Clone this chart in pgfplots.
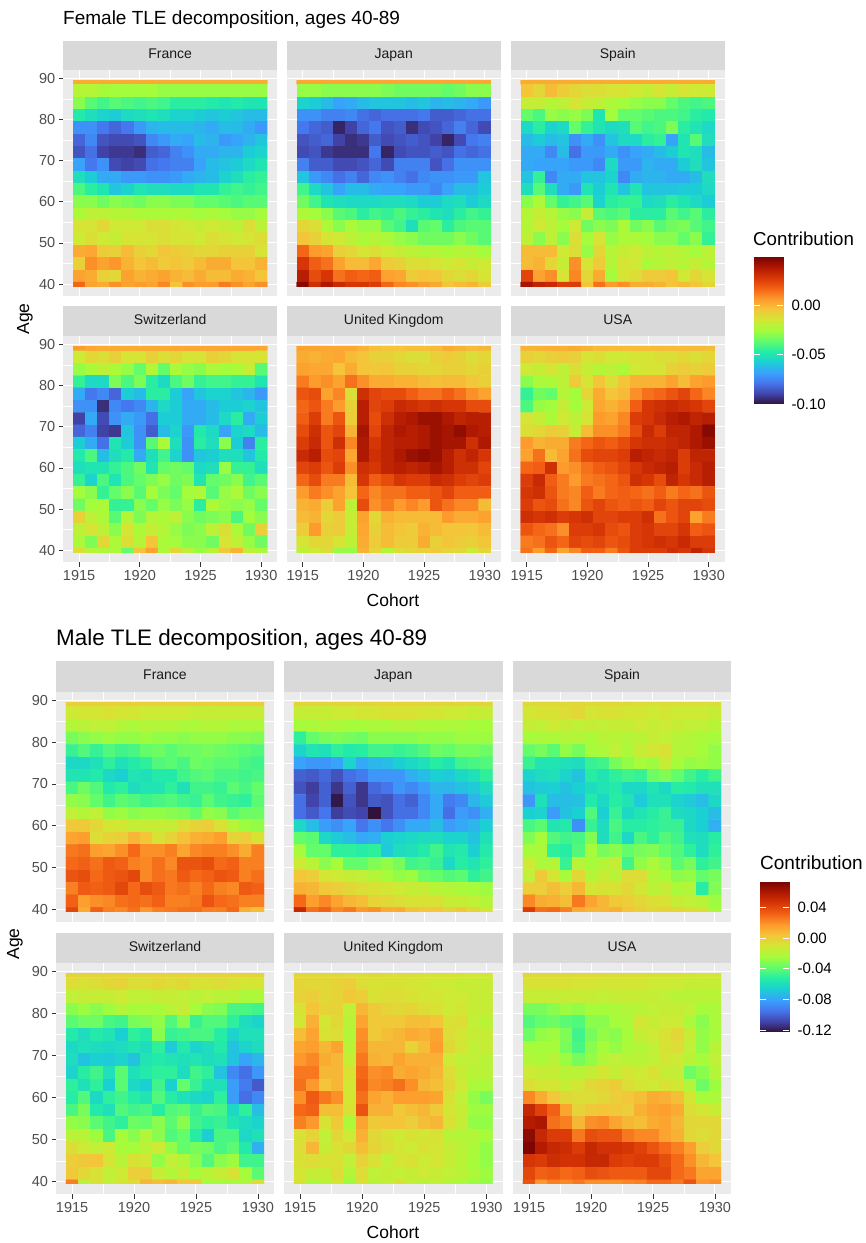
\documentclass[border=0pt]{standalone}
\usepackage{pgfplots}
\pgfplotsset{compat=1.18}
\usepackage{fontspec}
\setmainfont{Liberation Sans}
\definecolor{stripgrey}{HTML}{D9D9D9}
\definecolor{panelgrey}{HTML}{EBEBEB}
\definecolor{tickgrey}{HTML}{4D4D4D}
\definecolor{tickmark}{HTML}{333333}
\definecolor{striptext}{HTML}{1A1A1A}
\pgfplotsset{colormap={turbo}{rgb255=(48,18,59) rgb255=(65,69,171) rgb255=(70,117,237) rgb255=(57,162,252) rgb255=(27,207,212) rgb255=(36,236,166) rgb255=(97,252,108) rgb255=(164,252,59) rgb255=(209,232,52) rgb255=(243,198,58) rgb255=(254,155,45) rgb255=(243,99,21) rgb255=(217,56,6) rgb255=(177,25,1) rgb255=(122,4,2)},
 colormap name=turbo,
 yon/.style={ytick={40,50,...,90},yticklabels={40,50,60,70,80,90},ytick style={tickmark,line width=0.8pt},y tick label style={font=\fontsize{14.5}{15}\selectfont,text=tickgrey}},
 yoff/.style={ytick={40,50,...,90},yticklabels={},ytick style={draw=none}},
 xon/.style={xtick={1915,1920,1925,1930},xticklabels={1915,1920,1925,1930},xtick style={tickmark,line width=0.8pt},x tick label style={font=\fontsize{14.5}{15}\selectfont,text=tickgrey}},
 xoff/.style={xtick={1915,1920,1925,1930},xticklabels={},xtick style={draw=none}},
}
% contributions in thousandths; each list runs over cohorts 1915..1930, rows age 90 (top) down to age 39 in steps of 3
\newcommand\heat[1]{\gdef\coords{}%
 \foreach \v [count=\i from 0] in #1 {%
  \pgfmathtruncatemacro\cx{1915+mod(\i,16)}%
  \pgfmathtruncatemacro\cy{39+3*(17-floor(\i/16))}%
  \xdef\coords{\coords (\cx,\cy) [\v]}%
 }}
\newcommand\facet[8]{%
 \pgfmathsetmacro\pw{#2-#1}\pgfmathsetmacro\ph{#5-#4}\pgfmathsetmacro\py{1243-#5}%
 \fill[stripgrey] (#1,{1243-#3}) rectangle (#2,{1243-#4});
 \node[text=striptext,font=\fontsize{14}{15}\selectfont,text height=1.5ex,text depth=0.3ex] at ({(#1+#2)/2},{1243-(#3+#4)/2}) {#6};
 \begin{axis}[at={(#1pt,\py pt)},anchor=south west,scale only axis,width=\pw pt,height=\ph pt,
  xmin=1913.7,xmax=1931.3,ymin=37,ymax=92,axis line style={draw=none},axis background/.style={fill=panelgrey},
  grid=both,major grid style={white,line width=1pt},minor grid style={white,line width=0.5pt},
  minor xtick={1917.5,1922.5,1927.5},minor ytick={45,55,65,75,85},minor tick length=0pt,major tick length=4.5pt,
  tick align=outside,axis on top=false,xtick pos=bottom,ytick pos=left,#7]
 \addplot[draw=none,forget plot] coordinates {(1915,40)};
 \end{axis}
 \pgfmathsetmacro\hx{#1+0.8/17.6*\pw}\pgfmathsetmacro\hw{16/17.6*\pw}%
 \pgfmathsetmacro\hy{\py+2.5/55*\ph}\pgfmathsetmacro\hh{50/55*\ph}%
 \heat{#8}%
 \begin{axis}[at={(\hx pt,\hy pt)},anchor=south west,scale only axis,width=\hw pt,height=\hh pt,hide axis,clip=true,
  xmin=1914.5,xmax=1930.5,ymin=39.5,ymax=89.5,point meta min=\vmin,point meta max=\vmax]
 \edef\tmp{\noexpand\addplot[matrix plot*,mesh/cols=16,point meta=explicit] coordinates {\coords};}\tmp
 \end{axis}
}
\newcommand\legendbar[7]{% x, top, bottom, lo, hi, ticks, labels
 \pgfmathsetmacro\py{1243-#3}\pgfmathsetmacro\ph{#3-#2}%
 \begin{axis}[at={(#1pt,\py pt)},anchor=south west,scale only axis,width=29pt,height=\ph pt,view={0}{90},
  xmin=0,xmax=1,ymin=#4,ymax=#5,axis line style={draw=none},xtick=\empty,ytick={#6},yticklabels={#7},ytick pos=right,
  tick align=inside,major tick length=6pt,ytick style={white,line width=0.5pt},
  y tick label style={font=\fontsize{15}{16}\selectfont,text=black,xshift=5pt},axis on top]
 \addplot3[surf,shader=interp,mesh/rows=2,point meta=y] coordinates {(0,#4,0) (1,#4,0) (0,#5,0) (1,#5,0)};
 \foreach \t in {#6} {\edef\tmp{\noexpand\draw[white,line width=0.5pt] (axis cs:0,\t) -- (axis cs:0.2,\t);}\tmp}
 \end{axis}
}
\def\FF{2,2,2,2,2,2,2,2,2,2,2,2,2,2,2,2,
-22,-22,-25,-26,-26,-26,-26,-28,-28,-28,-28,-28,-28,-28,-28,-28,
-30,-38,-42,-38,-40,-42,-40,-42,-46,-46,-46,-48,-50,-48,-50,-50,
-48,-52,-56,-58,-54,-52,-50,-52,-56,-56,-58,-60,-58,-60,-62,-62,
-72,-72,-78,-82,-78,-70,-64,-62,-62,-62,-64,-66,-62,-62,-66,-70,
-82,-74,-86,-88,-88,-86,-74,-70,-66,-68,-62,-64,-70,-68,-64,-60,
-86,-80,-90,-92,-92,-94,-84,-82,-76,-72,-66,-66,-64,-64,-58,-56,
-68,-78,-72,-88,-90,-88,-80,-78,-76,-76,-68,-62,-60,-58,-54,-50,
-52,-58,-66,-66,-70,-70,-72,-72,-70,-66,-64,-62,-56,-52,-46,-44,
-40,-46,-50,-60,-56,-50,-52,-52,-54,-54,-50,-50,-44,-42,-44,-42,
-30,-30,-34,-30,-32,-34,-30,-30,-32,-32,-36,-36,-38,-40,-38,-38,
-24,-20,-20,-22,-22,-24,-24,-24,-24,-24,-26,-24,-26,-28,-28,-26,
-14,-14,-10,-16,-16,-16,-12,-12,-14,-16,-18,-16,-18,-20,-12,-20,
-16,-12,-16,-18,-14,-14,-14,-12,-14,-14,-16,-12,-14,-16,-14,-12,
2,3,-6,-8,-2,-8,-10,-4,-6,-8,-10,-10,-8,-8,-8,-14,
-8,8,4,7,0,-4,-2,-6,-4,-6,-2,2,2,-4,-4,0,
4,2,-8,-10,4,0,2,4,0,-2,2,-2,-2,2,0,-4,
16,4,2,8,4,6,4,10,-4,8,6,6,12,8,4,8}
\def\FJ{3,3,3,3,3,3,3,3,3,3,3,3,3,3,3,3,
-28,-28,-30,-30,-30,-30,-30,-32,-34,-34,-34,-34,-36,-34,-30,-30,
-56,-58,-62,-68,-66,-62,-60,-60,-60,-62,-60,-64,-62,-64,-66,-70,
-72,-72,-76,-76,-74,-80,-82,-80,-80,-80,-78,-84,-84,-82,-80,-80,
-78,-82,-84,-96,-90,-82,-78,-86,-84,-94,-88,-86,-82,-76,-82,-88,
-86,-84,-82,-90,-94,-92,-84,-88,-86,-84,-86,-90,-96,-88,-78,-76,
-88,-86,-92,-94,-94,-94,-78,-96,-88,-86,-86,-84,-86,-80,-82,-80,
-76,-84,-84,-88,-88,-86,-82,-88,-76,-76,-76,-86,-80,-72,-72,-72,
-60,-70,-74,-80,-76,-82,-74,-72,-76,-80,-74,-72,-72,-70,-70,-60,
-42,-54,-60,-68,-62,-62,-66,-68,-68,-70,-70,-74,-68,-62,-62,-58,
-34,-42,-50,-52,-54,-54,-54,-52,-52,-54,-58,-58,-54,-52,-58,-54,
-24,-26,-30,-38,-40,-46,-42,-44,-40,-44,-46,-50,-52,-46,-42,-44,
-10,-12,-24,-30,-24,-28,-28,-38,-42,-52,-38,-36,-46,-40,-38,-38,
-4,-8,-14,-16,-20,-24,-22,-24,-28,-30,-34,-34,-34,-30,-34,-38,
16,6,4,-8,-10,-14,-12,-16,-18,-20,-22,-22,-24,-22,-22,-26,
28,18,14,4,-2,-2,3,-6,-8,-12,-12,-14,-16,-14,-18,-16,
36,22,28,14,18,16,18,4,3,-6,-4,-5,-10,-12,-10,-14,
46,30,38,32,28,28,26,16,10,8,5,3,-4,-2,0,-6}
\def\FS{2,2,2,2,2,2,2,2,2,2,2,2,2,2,2,2,
-4,-10,-2,-6,-10,-12,-12,-14,-14,-16,-18,-14,-18,-14,-16,-16,
-18,-18,-22,-20,-14,-18,-20,-24,-26,-28,-30,-30,-36,-40,-42,-40,
-36,-40,-28,-30,-28,-32,-50,-26,-36,-36,-38,-40,-40,-42,-46,-48,
-54,-46,-56,-54,-36,-44,-50,-54,-52,-38,-42,-40,-32,-46,-50,-54,
-62,-58,-62,-60,-72,-66,-72,-60,-54,-54,-46,-44,-68,-50,-38,-52,
-66,-66,-74,-62,-80,-70,-70,-66,-72,-68,-66,-62,-58,-50,-52,-62,
-66,-68,-68,-68,-70,-70,-74,-54,-70,-70,-64,-66,-66,-58,-52,-60,
-60,-44,-74,-66,-66,-60,-60,-56,-74,-66,-64,-64,-66,-66,-62,-52,
-52,-38,-52,-66,-70,-50,-58,-50,-60,-50,-60,-60,-60,-58,-58,-54,
-30,-24,-36,-44,-42,-38,-56,-46,-44,-44,-54,-52,-46,-50,-54,-58,
-22,-18,-22,-28,-30,-18,-38,-40,-38,-46,-46,-46,-38,-42,-38,-46,
-22,-16,-20,-26,-16,-34,-30,-32,-24,-34,-30,-38,-34,-32,-38,-42,
-20,-30,-20,-30,-12,-26,-14,-28,-24,-24,-26,-30,-30,-36,-30,-44,
-2,-2,-2,-16,-12,-28,-10,-22,-18,-16,-20,-22,-20,-22,-26,-20,
-2,0,-10,-18,8,-14,-6,-22,-14,-16,-24,-22,-20,-22,-18,-22,
24,4,8,-14,10,-10,2,-26,-14,-12,-6,-6,-4,-16,-10,-14,
40,34,32,26,26,-4,14,6,8,2,2,0,-4,-2,-4,-10}
\def\FC{6,3,2,2,2,2,2,2,3,3,3,3,3,3,3,3,
-16,-10,-12,-8,-14,-14,-8,-12,-10,-14,-14,-8,-10,-14,-14,-14,
-28,-24,-20,-24,-28,-36,-22,-36,-24,-28,-30,-24,-26,-24,-18,-38,
-44,-54,-54,-32,-40,-32,-46,-54,-40,-34,-44,-42,-42,-44,-44,-50,
-66,-78,-74,-82,-58,-62,-46,-46,-58,-68,-60,-56,-56,-60,-64,-70,
-72,-72,-94,-74,-78,-74,-64,-54,-58,-66,-66,-62,-58,-58,-56,-60,
-90,-66,-88,-72,-66,-70,-80,-58,-58,-66,-66,-62,-54,-46,-66,-58,
-82,-76,-90,-92,-60,-72,-84,-62,-56,-70,-48,-54,-68,-56,-54,-62,
-58,-66,-80,-50,-58,-72,-38,-24,-52,-72,-46,-52,-30,-58,-76,-46,
-48,-40,-62,-52,-48,-66,-52,-42,-56,-72,-60,-58,-52,-52,-60,-48,
-52,-50,-50,-44,-40,-34,-50,-36,-34,-36,-54,-52,-28,-44,-44,-52,
-44,-56,-40,-50,-40,-36,-32,-28,-34,-32,-50,-36,-34,-30,-42,-38,
-26,-30,-44,-36,-30,-38,-26,-32,-36,-26,-24,-38,-28,-24,-34,-30,
-34,-26,-24,-44,-44,-30,-36,-28,-32,-28,-46,-24,-28,-30,-28,-36,
-8,-20,-24,-38,-22,-32,-22,-24,-20,-30,-34,-32,-30,-40,-26,-30,
-20,-14,-20,-30,-14,-24,-18,-22,-28,-32,-30,-20,-12,-24,-34,-8,
-24,-32,-10,-24,-12,-22,-4,-24,-26,-30,-30,-34,-14,-20,-28,-34,
-12,-22,-24,-24,-36,-4,4,-24,-10,-20,-28,-22,-6,0,-20,-24}
\def\FU{4,4,3,3,3,0,-3,-4,-4,-3,-3,-2,2,0,-2,-1,
2,0,2,3,-2,-4,-8,-8,-10,-12,-12,-8,-6,-8,-12,-10,
4,3,3,-4,2,-4,-5,-4,-8,-8,-10,-10,-8,-8,-10,-8,
12,6,8,4,14,8,2,2,0,0,-2,-3,-2,-2,-5,-8,
20,22,4,10,-12,30,24,22,22,18,14,14,18,14,8,4,
16,20,12,6,-8,36,24,26,32,30,28,30,28,28,22,22,
18,26,12,20,-6,36,22,30,36,38,42,42,38,34,36,36,
22,30,20,24,0,40,24,34,38,36,38,42,40,44,38,36,
26,32,20,30,10,38,28,34,36,36,38,42,40,40,30,38,
32,36,22,24,3,38,30,34,38,42,44,42,36,30,34,28,
24,26,20,26,8,30,28,34,36,34,36,40,36,30,30,24,
16,22,12,12,-2,28,18,22,28,26,26,32,30,26,24,26,
6,12,8,4,-4,16,10,14,14,18,18,20,24,18,18,18,
0,2,-6,4,-20,22,8,12,6,10,6,20,14,10,10,-2,
-2,0,-10,-6,-18,4,-10,0,-2,-2,-2,-2,6,2,2,4,
-6,6,-8,-6,-18,3,-8,-2,-4,-6,0,-2,-4,-4,-5,-2,
-14,-10,-10,-14,-20,2,-6,-2,-6,-6,2,-8,-4,-6,-8,-4,
-20,-16,-12,-28,-28,0,-10,-22,-12,-10,-8,-6,-10,-10,-16,-10}
\def\FA{0,0,1,1,2,0,-2,-2,-2,-2,-2,-2,-2,-2,-2,-2,
-8,-10,-8,-6,-8,-14,-12,-16,-16,-14,-14,-12,-12,-10,-12,-10,
-16,-18,-14,-20,-12,-18,-22,-20,-24,-16,-14,-14,-8,-6,-8,-6,
-30,-24,-24,-20,-6,-14,-4,-12,-4,0,0,0,4,-2,4,6,
-44,-34,-36,-22,-26,-10,2,-4,-2,8,14,16,20,24,16,10,
-40,-28,-26,-18,-26,-16,3,0,4,18,28,30,32,30,28,24,
-14,-18,-24,-16,-20,-14,6,4,10,26,28,32,36,38,34,36,
-12,-10,-6,-8,-18,-2,8,8,12,22,32,26,34,34,38,46,
6,0,2,2,12,16,20,18,22,28,30,30,32,34,38,42,
4,14,-2,4,14,22,24,24,26,36,34,32,34,26,34,34,
16,18,30,6,8,14,18,20,24,28,32,34,36,26,32,36,
26,32,18,12,6,12,14,16,20,30,28,22,34,28,32,36,
28,30,20,12,10,18,12,16,18,16,14,18,12,16,14,20,
26,20,22,14,10,20,24,20,18,20,18,24,20,24,24,22,
30,28,30,26,28,30,24,24,26,26,30,14,20,24,4,12,
20,16,14,8,26,26,28,22,20,26,28,24,24,28,18,20,
12,14,20,16,24,22,24,20,22,26,28,30,28,32,26,26,
14,6,16,4,10,18,18,12,20,26,26,26,30,28,34,28}
\def\MF{0,0,0,0,0,0,0,0,0,0,0,0,0,0,0,0,
-12,-10,-10,-8,-10,-10,-12,-12,-12,-12,-14,-14,-14,-14,-14,-14,
-20,-18,-16,-16,-20,-22,-20,-20,-20,-22,-22,-20,-20,-22,-22,-22,
-34,-30,-28,-26,-28,-28,-26,-28,-28,-30,-28,-28,-28,-30,-30,-32,
-48,-42,-48,-42,-46,-44,-38,-36,-40,-36,-36,-34,-36,-38,-40,-42,
-62,-62,-58,-50,-58,-54,-50,-42,-40,-44,-36,-38,-40,-40,-44,-46,
-56,-56,-54,-62,-66,-56,-58,-54,-54,-46,-42,-40,-44,-44,-46,-44,
-44,-36,-42,-54,-50,-60,-56,-56,-50,-58,-46,-46,-48,-40,-44,-38,
-28,-30,-38,-46,-40,-42,-46,-44,-42,-46,-48,-40,-46,-48,-50,-40,
-16,-20,-16,-28,-26,-30,-28,-28,-30,-32,-38,-28,-30,-40,-36,-36,
3,2,-4,-10,-10,-14,-14,-14,-14,-6,-2,0,-8,-18,-26,-28,
14,16,-6,-2,0,8,4,-8,-2,5,10,12,16,-2,0,-8,
26,28,16,14,20,30,20,20,24,14,22,24,24,20,12,24,
30,32,28,34,32,24,22,28,22,36,36,38,30,32,24,24,
36,38,30,34,36,40,22,28,26,34,30,32,36,34,24,28,
24,34,32,34,40,30,38,34,26,28,24,30,24,22,34,32,
32,16,20,22,28,30,28,32,24,24,26,36,30,28,24,24,
40,12,32,24,22,28,18,24,26,28,28,24,24,30,10,6}
\def\MJ{-2,-2,-2,-2,-2,-2,-2,-2,-2,-2,-2,-2,-2,-2,-2,-2,
-14,-14,-14,-12,-12,-10,-10,-8,-8,-8,-10,-10,-12,-12,-14,-14,
-24,-22,-20,-22,-24,-24,-22,-22,-20,-20,-22,-22,-22,-22,-24,-24,
-50,-38,-34,-32,-34,-36,-30,-30,-30,-30,-28,-28,-28,-26,-26,-26,
-64,-56,-58,-50,-54,-52,-46,-46,-48,-46,-42,-36,-38,-34,-34,-36,
-80,-84,-84,-80,-64,-78,-74,-72,-66,-62,-58,-52,-56,-46,-44,-42,
-100,-102,-98,-104,-96,-92,-84,-84,-84,-76,-72,-66,-68,-62,-58,-50,
-104,-110,-100,-112,-100,-112,-98,-94,-84,-88,-82,-74,-74,-70,-68,-60,
-96,-108,-100,-120,-104,-112,-102,-104,-96,-100,-88,-78,-92,-88,-74,-68,
-96,-102,-94,-110,-106,-108,-122,-104,-96,-96,-88,-78,-96,-82,-86,-76,
-62,-72,-82,-86,-80,-94,-86,-94,-86,-78,-78,-72,-82,-78,-74,-66,
-38,-40,-62,-68,-72,-78,-76,-66,-64,-62,-60,-60,-64,-64,-70,-58,
-24,-38,-38,-50,-50,-52,-50,-68,-60,-58,-54,-46,-56,-54,-66,-54,
-12,-18,-30,-24,-38,-38,-32,-28,-34,-46,-44,-48,-62,-52,-56,-50,
3,0,-10,-12,-14,-16,-20,-24,-28,-26,-36,-38,-42,-40,-50,-46,
10,8,2,0,-4,-6,-8,-10,-12,-14,-14,-18,-20,-22,-24,-26,
30,16,22,14,8,6,-2,-4,-6,-8,-8,-8,-14,-14,-16,-20,
52,28,32,22,26,18,20,12,12,5,3,3,-2,2,-4,-10}
\def\MS{-4,-4,-4,-4,-4,-4,-4,-4,-4,-6,-6,-6,-6,-6,-6,-6,
-10,-8,-8,-6,-4,-10,-8,-8,-10,-10,-12,-10,-12,-12,-12,-14,
-14,-16,-12,-14,-16,-14,-16,-14,-14,-12,-14,-12,-14,-16,-16,-18,
-24,-22,-22,-20,-20,-22,-18,-18,-20,-18,-14,-16,-18,-20,-22,-24,
-38,-34,-40,-28,-34,-24,-22,-16,-22,-14,-10,-8,-20,-20,-24,-28,
-48,-56,-56,-58,-60,-48,-46,-34,-28,-24,-26,-14,-24,-28,-26,-28,
-64,-60,-58,-64,-70,-52,-56,-50,-46,-48,-36,-32,-38,-46,-52,-46,
-70,-68,-66,-70,-66,-60,-56,-54,-62,-62,-56,-62,-52,-54,-58,-58,
-84,-58,-72,-72,-70,-54,-62,-52,-56,-68,-58,-58,-64,-68,-72,-62,
-66,-64,-82,-70,-66,-42,-66,-48,-62,-56,-52,-48,-60,-62,-66,-72,
-44,-40,-56,-54,-86,-48,-60,-44,-52,-52,-50,-48,-48,-62,-66,-76,
-32,-24,-42,-46,-44,-32,-60,-46,-62,-44,-50,-42,-46,-58,-60,-52,
-24,-22,-50,-52,-42,-24,-34,-30,-38,-34,-32,-38,-42,-50,-60,-50,
-12,-22,-20,-48,-18,-24,-20,-14,-46,-28,-22,-28,-40,-34,-50,-46,
-16,2,-10,-24,-4,-20,-14,-18,-6,-6,-20,-24,-30,-28,-38,-34,
0,0,6,0,8,-10,-8,-8,-4,-10,-18,-14,-22,-20,-52,-32,
22,12,10,6,26,14,8,2,0,-4,-6,-8,-14,-16,-18,-26,
44,28,30,24,12,8,8,10,4,0,-4,-2,-4,-6,-8,-22}
\def\MC{-2,-2,-2,-2,-2,-2,-2,-2,-2,-2,-2,-2,-2,-2,-2,-2,
-6,-8,-6,-4,-2,-6,-6,-4,-6,-4,-8,-8,-6,-8,-10,-10,
-16,-14,-14,-14,-12,-16,-16,-14,-14,-16,-18,-16,-18,-18,-22,-22,
-30,-26,-30,-26,-20,-24,-22,-24,-18,-14,-24,-30,-32,-44,-44,-46,
-40,-36,-36,-44,-46,-34,-32,-28,-42,-30,-48,-42,-42,-50,-60,-64,
-54,-60,-54,-56,-66,-50,-54,-30,-48,-46,-44,-44,-52,-64,-58,-58,
-62,-58,-60,-62,-60,-56,-60,-50,-68,-54,-64,-60,-54,-70,-64,-60,
-60,-70,-66,-68,-64,-70,-56,-54,-56,-58,-56,-60,-58,-70,-80,-74,
-64,-52,-46,-58,-40,-58,-54,-50,-50,-60,-46,-50,-70,-88,-96,-84,
-50,-58,-50,-66,-40,-62,-66,-46,-66,-38,-48,-58,-58,-82,-92,-102,
-52,-42,-62,-50,-46,-52,-56,-42,-52,-58,-62,-64,-50,-82,-96,-88,
-44,-34,-54,-58,-42,-46,-44,-52,-42,-40,-48,-42,-44,-62,-50,-72,
-28,-30,-40,-46,-50,-36,-38,-30,-40,-30,-46,-50,-48,-56,-60,-64,
-18,-18,-26,-44,-24,-30,-20,-30,-42,-38,-52,-66,-44,-44,-62,-58,
-6,-12,-16,-12,-24,-24,-18,-12,-28,-38,-34,-36,-44,-40,-54,-76,
0,2,4,-10,-18,-8,-10,-28,-16,-20,-30,-42,-30,-26,-46,-46,
2,-4,-8,-16,-12,0,0,-14,-20,-14,-24,-18,-14,-8,-24,-40,
24,-18,-8,-16,-10,-6,8,6,8,2,2,-24,-24,-24,-22,-6}
\def\MU{-4,-4,-4,-4,-6,-6,-4,-6,-6,-6,-8,-8,-8,-8,-10,-10,
-2,-4,-4,-2,0,-6,-8,-8,-8,-10,-10,-12,-12,-14,-14,-14,
-2,0,-4,-2,2,0,-8,-6,-6,-8,-10,-10,-12,-12,-14,-14,
-8,4,-2,-2,-16,8,2,-2,-4,-2,-6,-8,-12,-10,-14,-14,
-10,10,-10,-4,-18,14,2,2,2,6,6,4,-8,-6,-16,-18,
6,14,-8,-6,-20,20,2,6,8,12,10,14,-6,-10,-14,-14,
14,16,8,14,-18,22,8,8,8,-2,6,16,-4,-10,-16,-14,
18,22,12,8,-14,26,10,8,14,10,10,10,-12,-16,-16,-18,
26,26,8,8,-8,30,20,22,12,14,12,8,-6,-14,-18,-18,
28,18,4,8,-10,32,22,24,28,20,8,6,-4,-12,-22,-22,
20,34,26,20,-10,28,14,10,16,16,16,14,-8,-16,-28,-34,
30,32,6,6,-8,36,10,10,2,6,8,2,-10,-14,-26,-26,
24,18,-8,2,-22,14,2,4,4,0,6,8,-8,-14,-28,-28,
-8,-2,-16,-4,-12,10,-4,-8,-12,-8,-10,-8,-18,-20,-20,-24,
-6,8,-14,-8,-4,6,-2,-6,-10,-12,-8,-10,-14,-18,-22,-28,
-8,-6,-8,-8,-16,-2,-8,-16,-10,-8,-12,-10,-14,-18,-24,-28,
-10,-14,-14,-6,-20,-6,-16,-14,-16,-14,-12,-14,-16,-18,-22,-26,
-8,-22,-18,-10,-26,-8,-18,-16,-8,-16,-18,-16,-20,-22,-26,-28}
\def\MA{-4,-4,-4,-4,-5,-5,-5,-6,-6,-7,-7,-7,-8,-8,-9,-9,
-8,-8,-8,-8,-9,-9,-10,-10,-10,-10,-12,-12,-12,-14,-14,-14,
-14,-14,-14,-14,-14,-14,-16,-14,-14,-14,-14,-16,-18,-18,-18,-18,
-34,-34,-30,-26,-28,-24,-24,-22,-20,-18,-16,-14,-14,-16,-24,-22,
-42,-38,-36,-40,-42,-30,-30,-24,-22,-10,-14,-12,-12,-22,-30,-22,
-36,-28,-26,-32,-46,-34,-28,-30,-24,-14,-12,-8,-4,-14,-28,-24,
-24,-24,-24,-34,-44,-30,-24,-28,-22,-20,-16,-8,-6,-16,-28,-18,
-20,-22,-18,-26,-34,-28,-20,-16,-18,-18,-16,-10,-12,-18,-24,-16,
-12,-14,-14,-18,-18,-14,-10,-14,-10,-12,-8,-14,-14,-36,-30,-20,
-6,-10,-10,-14,-10,-4,-2,1,-6,-10,-12,-8,-10,-20,-36,-26,
22,12,3,-4,-6,-6,-4,0,3,6,12,10,6,-10,-24,-22,
52,42,32,14,-2,2,4,2,0,10,14,16,12,-6,-10,-14,
58,60,28,24,8,20,22,14,8,6,12,14,8,-4,-4,-4,
68,52,44,44,26,38,36,36,26,22,22,14,10,-4,-6,-4,
72,58,52,50,44,52,48,48,46,42,36,30,24,16,0,-4,
46,44,50,48,48,52,52,44,42,44,44,38,30,20,8,4,
40,32,34,30,32,38,36,34,34,34,40,40,30,26,14,14,
36,18,24,22,26,20,20,20,22,24,30,30,26,36,18,20}
\begin{document}
\begin{tikzpicture}[x=1pt,y=1pt]
\path[use as bounding box] (0,0) rectangle (866,1243);
\node[anchor=west,inner sep=0pt,font=\fontsize{19}{20}\selectfont] at (63,{1243-20}) {Female TLE decomposition, ages 40-89};
\def\vmin{-100}\def\vmax{48.5}
\facet{63.3}{277}{41}{70}{296.5}{France}{yon,xoff}{\FF}
\facet{287}{500.5}{41}{70}{296.5}{Japan}{yoff,xoff}{\FJ}
\facet{511}{724.5}{41}{70}{296.5}{Spain}{yoff,xoff}{\FS}
\facet{63.3}{277}{306}{336.5}{562.5}{Switzerland}{yon,xon}{\FC}
\facet{287}{500.5}{306}{336.5}{562.5}{United Kingdom}{yoff,xon}{\FU}
\facet{511}{724.5}{306}{336.5}{562.5}{USA}{yoff,xon}{\FA}
\node[font=\fontsize{17.5}{18}\selectfont] at (393,{1243-600}) {Cohort};
\node[rotate=90,font=\fontsize{17.5}{18}\selectfont] at (25,{1243-319}) {Age};
\node[anchor=west,inner sep=0pt,font=\fontsize{18.7}{19}\selectfont] at (753,{1243-239}) {Contribution};
\legendbar{754}{257}{404}{-0.1}{0.0485}{-0.10,-0.05,0}{-0.10,-0.05,0.00}
\node[anchor=west,inner sep=0pt,font=\fontsize{22.4}{23}\selectfont] at (56,{1243-640}) {Male TLE decomposition, ages 40-89};
\def\vmin{-122}\def\vmax{73}
\facet{56}{274}{661}{692}{922}{France}{yon,xoff}{\MF}
\facet{284}{502.5}{661}{692}{922}{Japan}{yoff,xoff}{\MJ}
\facet{513}{731}{661}{692}{922}{Spain}{yoff,xoff}{\MS}
\facet{56}{274}{933}{963}{1194.5}{Switzerland}{yon,xon}{\MC}
\facet{284}{502.5}{933}{963}{1194.5}{United Kingdom}{yoff,xon}{\MU}
\facet{513}{731}{933}{963}{1194.5}{USA}{yoff,xon}{\MA}
\node[font=\fontsize{17.5}{18}\selectfont] at (393,{1243-1232}) {Cohort};
\node[rotate=90,font=\fontsize{17.5}{18}\selectfont] at (15,{1243-944}) {Age};
\node[anchor=west,inner sep=0pt,font=\fontsize{19}{20}\selectfont] at (760,{1243-863}) {Contribution};
\legendbar{760}{882}{1032}{-0.1226}{0.073}{-0.12,-0.08,-0.04,0,0.04}{-0.12,-0.08,-0.04,0.00,0.04}
\end{tikzpicture}
\end{document}
